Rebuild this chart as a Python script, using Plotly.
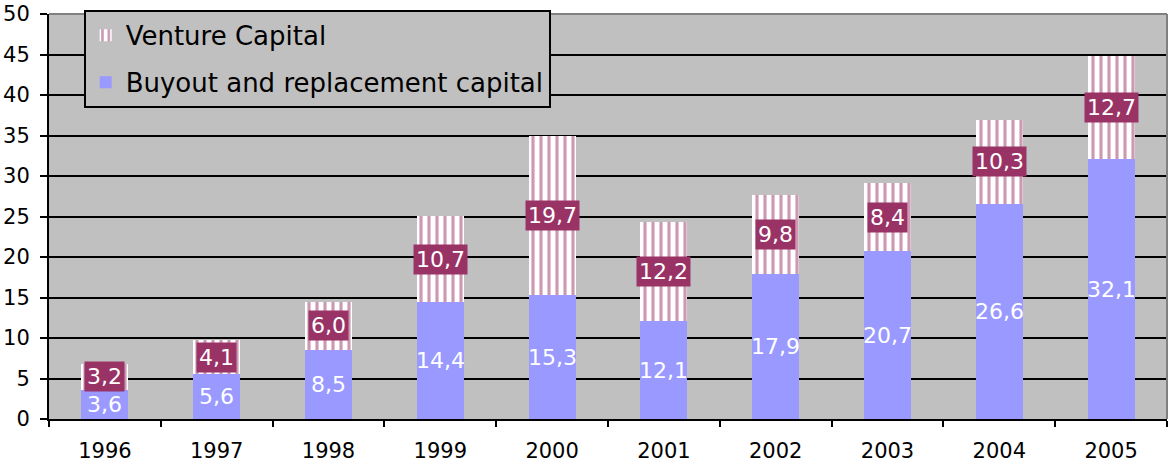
import plotly.graph_objects as go

years = ["1996", "1997", "1998", "1999", "2000", "2001", "2002", "2003", "2004", "2005"]
buyout = [3.6, 5.6, 8.5, 14.4, 15.3, 12.1, 17.9, 20.7, 26.6, 32.1]
venture = [3.2, 4.1, 6.0, 10.7, 19.7, 12.2, 9.8, 8.4, 10.3, 12.7]
y_ticks = [0, 5, 10, 15, 20, 25, 30, 35, 40, 45, 50]

FONT = "DejaVu Sans"
MAROON = "#993366"
BLUE = "#9999FF"
GRAY = "#C0C0C0"


def fmt(v):
    return f"{v:.1f}".replace(".", ",")


fig = go.Figure()
fig.add_trace(go.Bar(
    x=years, y=buyout, name="Buyout and replacement capital",
    marker=dict(color=BLUE, line=dict(width=0)),
    legendgroup="b", legendrank=2,
))
fig.add_trace(go.Bar(
    x=years, y=venture, name="Venture Capital",
    marker=dict(color="white", line=dict(width=0),
                pattern=dict(shape="|", fgcolor=MAROON, bgcolor="white",
                             size=8, solidity=0.4, fillmode="overlay")),
    legendgroup="v", legendrank=1,
))

annotations = []
for i, (b, v) in enumerate(zip(buyout, venture)):
    annotations.append(dict(x=i, y=b / 2, text=fmt(b), showarrow=False,
                            font=dict(family=FONT, size=22, color="white")))
    annotations.append(dict(x=i, y=b + v / 2, text=fmt(v), showarrow=False,
                            bgcolor=MAROON, borderpad=2,
                            font=dict(family=FONT, size=22, color="white")))

fig.update_layout(
    width=1169, height=465,
    margin=dict(l=49, r=2, t=14, b=44),
    paper_bgcolor="white", plot_bgcolor=GRAY,
    barmode="stack", bargap=0.58,
    font=dict(family=FONT, size=21, color="black"),
    showlegend=True,
    legend=dict(x=0.031, y=1.01, xanchor="left", yanchor="top",
                bgcolor=GRAY, bordercolor="black", borderwidth=2,
                traceorder="grouped", tracegroupgap=10,
                font=dict(family=FONT, size=26, color="black")),
    annotations=annotations,
    xaxis=dict(type="category", range=[-0.5, 9.5], autorange=False,
               showline=True, linecolor="black", linewidth=2,
               ticks="outside", tickson="boundaries", ticklen=6, tickwidth=1.5,
               tickcolor="black", showgrid=False, tickangle=0, ticklabelstandoff=12,
               tickfont=dict(family=FONT, size=21, color="black")),
    yaxis=dict(range=[0, 50], autorange=False, tickvals=y_ticks, showline=True,
               linecolor="black", linewidth=2, ticks="outside", ticklen=7,
               tickwidth=1.5, tickcolor="black", ticklabelstandoff=6,
               showgrid=True, gridcolor="black", gridwidth=2, zeroline=False,
               tickfont=dict(family=FONT, size=21, color="black")),
    shapes=[
        dict(type="line", xref="paper", yref="paper", x0=0, x1=1, y0=1, y1=1,
             line=dict(color="#808080", width=2), layer="above"),
        dict(type="line", xref="paper", yref="paper", x0=1, x1=1, y0=0, y1=1,
             line=dict(color="#808080", width=2), layer="above"),
    ],
)

# remove the browser's default 8px body margin so the figure sits at the page origin
fig.write_html("out.html", config={"displayModeBar": False},
               post_script="document.body.style.margin='0';")
